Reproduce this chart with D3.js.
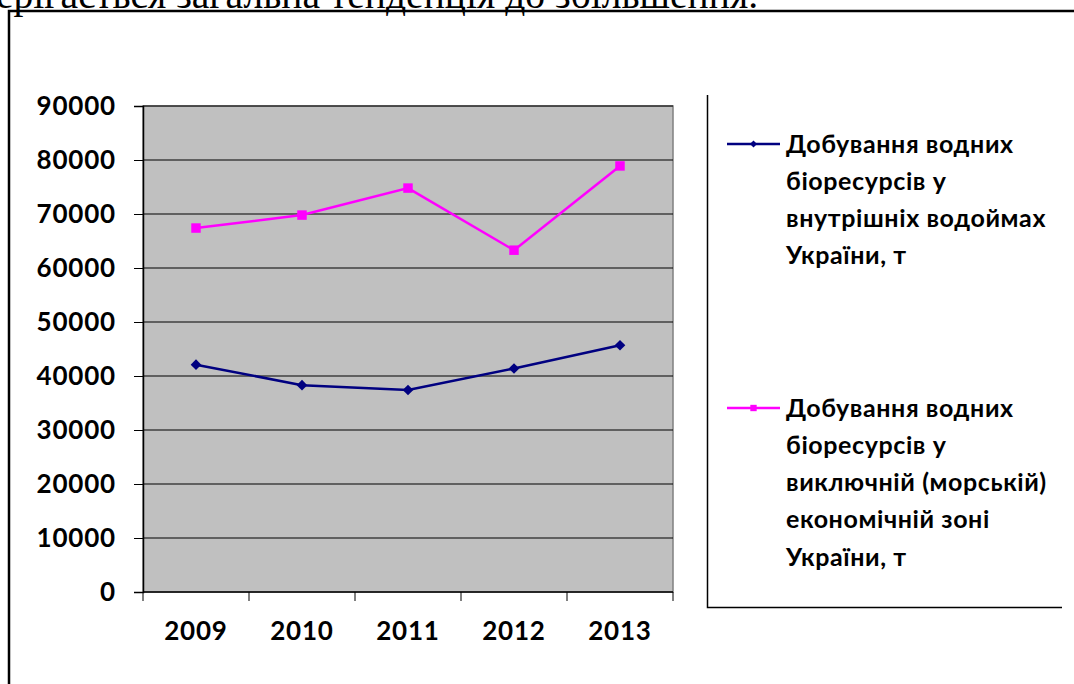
<!DOCTYPE html>
<html>
<head>
<meta charset="utf-8">
<script src="https://cdn.jsdelivr.net/npm/d3@7"></script>
<style>
  body { margin: 0; background: #fff; }
  svg { display: block; }
  .lbl { font-family: Lato, "Open Sans", sans-serif; font-weight: bold; fill: #000; }
</style>
</head>
<body>
<svg id="chart"></svg>
<script>
// years on the x axis
const years = ['2009', '2010', '2011', '2012', '2013']

// inland water bodies catch, t
const inland = [42100, 38300, 37400, 41400, 45700]

// exclusive (marine) economic zone catch, t
const marine = [67400, 69800, 74800, 63300, 78900]

const yTicks = [0, 10000, 20000, 30000, 40000, 50000, 60000, 70000, 80000, 90000]

const legendInland = ['Добування водних', 'біоресурсів у', 'внутрішніх водоймах', 'України, т']
const legendMarine = ['Добування водних', 'біоресурсів у', 'виключній (морській)', 'економічній зоні', 'України, т']

const width = 1074
const height = 684
const plot = { left: 143, right: 673, top: 106, bottom: 592 }

const svg = d3.select('#chart')
  .attr('width', width)
  .attr('height', height)

// text line from the page above the chart (cut by the page edge)
svg.append('text')
  .attr('x', -4)
  .attr('y', 8)
  .style('font-family', '"Liberation Serif", "Times New Roman", serif')
  .style('font-size', '39.6px')
  .text('ерігається загальна тенденція до збільшення.')

// outer frame of the figure
svg.append('path')
  .attr('d', `M9,${height + 5}V11H${width + 5}`)
  .attr('fill', 'none')
  .attr('stroke', '#000')
  .attr('stroke-width', 2.5)

const x = d3.scaleBand()
  .domain(years)
  .range([plot.left, plot.right])

const y = d3.scaleLinear()
  .domain([0, 90000])
  .range([plot.bottom, plot.top])

// plot area
svg.append('rect')
  .attr('x', plot.left)
  .attr('y', plot.top)
  .attr('width', plot.right - plot.left)
  .attr('height', plot.bottom - plot.top)
  .attr('fill', '#c0c0c0')
  .attr('stroke', '#808080')
  .attr('stroke-width', 1.5)

// gridlines
svg.append('g')
  .selectAll('line')
  .data(yTicks.filter(d => d > 0))
  .join('line')
  .attr('x1', plot.left)
  .attr('x2', plot.right)
  .attr('y1', d => y(d))
  .attr('y2', d => y(d))
  .attr('stroke', '#000')
  .attr('stroke-width', 1.2)

const yAxis = d3.axisLeft(y)
  .tickValues(yTicks)
  .tickSize(9)
  .tickPadding(18)
  .tickFormat(d3.format('d'))

const xAxis = d3.axisBottom(x)
  .tickSize(0)
  .tickPadding(30)

const gy = svg.append('g')
  .attr('transform', `translate(${plot.left},0)`)
  .call(yAxis)

const gx = svg.append('g')
  .attr('transform', `translate(0,${plot.bottom})`)
  .call(xAxis)

gx.select('.domain').attr('d', `M${plot.left},0H${plot.right}`)

// tick marks on the band boundaries
gx.selectAll('.bound')
  .data(years.concat(['end']))
  .join('line')
  .attr('class', 'bound')
  .attr('x1', (d, i) => plot.left + i * x.bandwidth())
  .attr('x2', (d, i) => plot.left + i * x.bandwidth())
  .attr('y1', 0)
  .attr('y2', 9)
  .attr('stroke', '#000')

for (const g of [gx, gy]) {
  g.selectAll('.domain').attr('stroke', '#000').attr('stroke-width', 1.5)
  g.selectAll('.tick line').attr('stroke', '#000')
  g.selectAll('.tick text')
    .attr('class', 'lbl')
    .style('font-size', '26px')
    .style('letter-spacing', '0.8px')
}

const series = [
  { name: 'inland', values: inland, color: '#000080', symbol: d3.symbolDiamond2, size: 72, legend: legendInland, ly: 144 },
  { name: 'marine', values: marine, color: '#ff00ff', symbol: d3.symbolSquare, size: 90, legend: legendMarine, ly: 408 }
]

const cx = (d, i) => x(years[i]) + x.bandwidth() / 2

const line = d3.line()
  .x(cx)
  .y(d => y(d))

for (const s of series) {
  const g = svg.append('g').attr('class', s.name)

  g.append('path')
    .datum(s.values)
    .attr('d', line)
    .attr('fill', 'none')
    .attr('stroke', s.color)
    .attr('stroke-width', 2.5)

  g.selectAll('path.pt')
    .data(s.values)
    .join('path')
    .attr('class', 'pt')
    .attr('d', d3.symbol(s.symbol, s.size))
    .attr('transform', (d, i) => `translate(${cx(d, i)},${y(d)})`)
    .attr('fill', s.color)
}

// legend box: only left and bottom edges are visible
const legend = svg.append('g')

legend.append('path')
  .attr('d', 'M707.5,95V607.5H1062')
  .attr('fill', 'none')
  .attr('stroke', '#000')
  .attr('stroke-width', 1.5)

for (const s of series) {
  const lg = legend.append('g')
    .attr('transform', `translate(727,${s.ly})`)

  lg.append('line')
    .attr('x1', 0)
    .attr('x2', 53)
    .attr('stroke', s.color)
    .attr('stroke-width', 2.5)

  lg.append('path')
    .attr('d', d3.symbol(s.symbol, s.size * 0.45))
    .attr('transform', 'translate(26.5,0)')
    .attr('fill', s.color)

  lg.selectAll('text')
    .data(s.legend)
    .join('text')
    .attr('class', 'lbl')
    .attr('x', 59)
    .attr('y', (d, i) => i * 37.2)
    .attr('dy', '0.35em')
    .style('font-size', '25px')
    .style('letter-spacing', '0.6px')
    .text(d => d)
}
</script>
</body>
</html>
